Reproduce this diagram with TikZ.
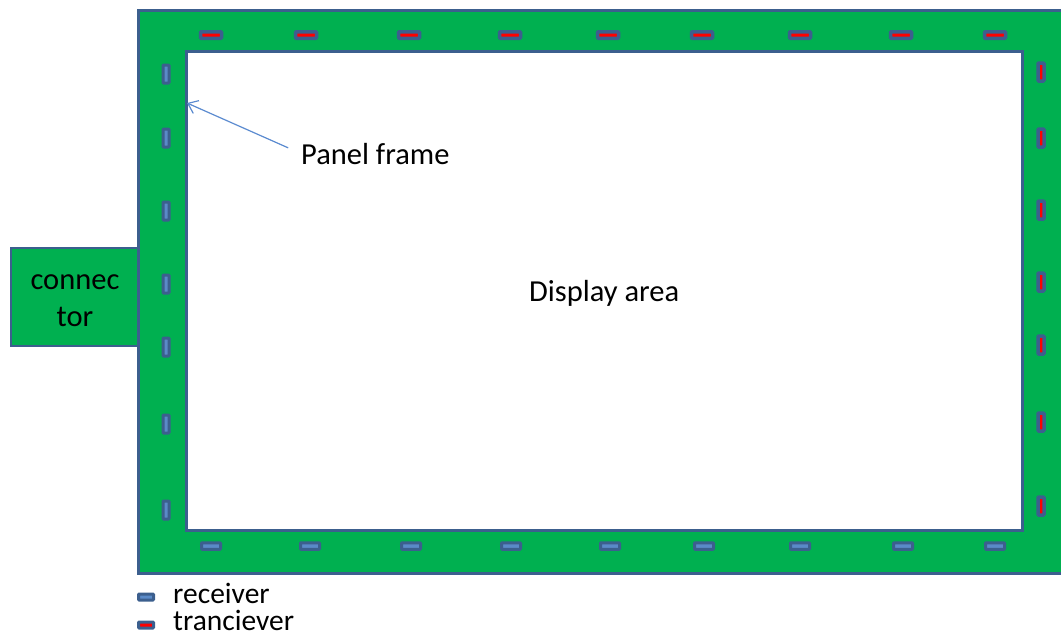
\documentclass[tikz,border=0pt]{standalone}
\usepackage{fontspec}
\setmainfont{Carlito}
\usetikzlibrary{arrows.meta}
\definecolor{pgreen}{HTML}{00B050}
\definecolor{pborder}{HTML}{3C5F8E}
\definecolor{rxfill}{HTML}{5A8AC8}
\definecolor{arrowblue}{HTML}{5B8BD0}
\tikzset{
  lbl/.style={inner sep=0pt, font=\fontsize{30.5}{36}\selectfont},
  leglbl/.style={inner sep=0pt, font=\fontsize{29.5}{30}\selectfont},
  rxh/.style={draw=pborder, fill=rxfill, line width=3pt, rounded corners=0.8pt, inner sep=0pt, minimum width=19pt, minimum height=6.5pt},
  rxv/.style={draw=pborder, fill=rxfill, line width=3pt, rounded corners=0.8pt, inner sep=0pt, minimum width=6pt, minimum height=18pt},
  txh/.style={draw=pborder, fill=red, line width=3.5pt, rounded corners=0.8pt, inner sep=0pt, minimum width=21pt, minimum height=6.5pt},
  txv/.style={draw=pborder, fill=red, line width=3.5pt, rounded corners=0.8pt, inner sep=0pt, minimum width=6pt, minimum height=18pt},
  legicon/.style={draw=pborder, line width=3pt, rounded corners=0.8pt, inner sep=0pt, minimum width=15pt, minimum height=6pt},
}
\begin{document}
\begin{tikzpicture}[x=1pt,y=-1pt]
\useasboundingbox (0,0) rectangle (1061,637);
% connector
\draw[pborder, line width=2.5pt, fill=pgreen] (11,248) rectangle (139,346);
% outer frame
\draw[pborder, line width=3pt, fill=pgreen] (138,10) rectangle (1066,573);
% display area
\node[draw=pborder, line width=3pt, fill=white, inner sep=0pt, minimum width=836pt, minimum height=479pt] (disp) at (604,290.5) {};
\node[lbl, anchor=base west] (da) at (529,301) {Display area};
% connector text
\node[lbl, anchor=base] (c1) at (75,289) {connec};
\node[lbl, anchor=base] (c2) at (75,326) {tor};
% top transceivers
\foreach \x [count=\i] in {211,306,409,510,608,702,800,901,995}
  \node[txh] (t\i) at (\x,35) {};
% bottom receivers
\foreach \x [count=\i] in {211,310,411,511,610,704,800,903,995}
  \node[rxh] (b\i) at (\x,546) {};
% left receivers
\foreach \y [count=\i] in {74,138,211,284,347,424,510}
  \node[rxv] (l\i) at (166,\y) {};
% right transceivers
\foreach \y [count=\i] in {72,138,210,282,345,422,506}
  \node[txv] (r\i) at (1041,\y) {};
% panel frame label and arrow
\node[lbl, anchor=base west] (pf) at (301,164) {Panel frame};
\coordinate (pftip) at (187,103);
\draw[arrowblue, line width=1.2pt, shorten <=14pt, -{Straight Barb[length=9pt,width=14pt]}] (pf.west) -- (pftip);
% legend
\node[legicon, fill=rxfill] (lr) at (146,597) {};
\node[leglbl, anchor=base west, text depth=0pt, text height=14pt] (lrt) at (173,603) {receiver};
\node[legicon, fill=red] (lt) at (146,625) {};
\node[leglbl, anchor=base west, text height=19pt, text depth=6pt] (ltt) at (173,630) {tranciever};
\end{tikzpicture}
\end{document}
